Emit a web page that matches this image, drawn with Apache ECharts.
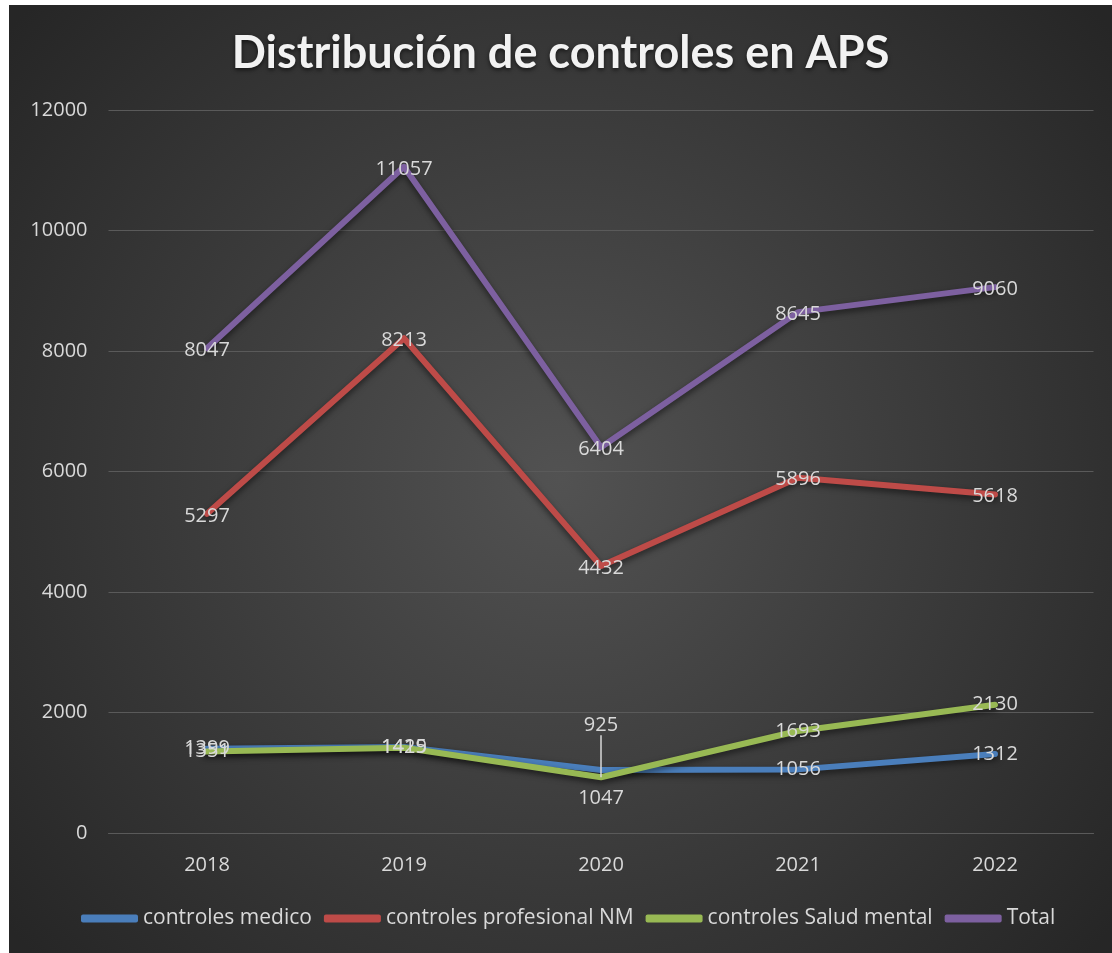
<!DOCTYPE html>
<html>
<head>
<meta charset="utf-8">
<script src="https://cdn.jsdelivr.net/npm/echarts@6/dist/echarts.min.js"></script>
<style>
  html, body { margin: 0; padding: 0; background: #ffffff; }
  #chart { position: absolute; left: 9px; top: 5px; width: 1103px; height: 948px; }
</style>
</head>
<body>
<div id="chart"></div>
<script>
var years = ['2018', '2019', '2020', '2021', '2022'];
var controlesMedico = [1399, 1429, 1047, 1056, 1312];
var controlesNM = [5297, 8213, 4432, 5896, 5618];
var controlesSaludMental = [1351, 1415, 925, 1693, 2130];
var total = [8047, 11057, 6404, 8645, 9060];

var labelColor = '#d9d9d9';
var fontName = '"Open Sans", sans-serif';

function makeSeries(name, data, color, extra) {
    var s = {
        name: name,
        type: 'line',
        data: data,
        showSymbol: true,
        symbol: 'circle',
        symbolSize: 0.1,
        lineStyle: {
            color: color,
            width: 6,
            cap: 'round',
            join: 'round',
            shadowColor: 'rgba(0,0,0,0.55)',
            shadowBlur: 6,
            shadowOffsetY: 3
        },
        itemStyle: { color: color },
        label: {
            show: true,
            position: 'inside',
            offset: [0, 2],
            color: labelColor,
            fontFamily: fontName,
            fontSize: 20
        },
        labelLine: { show: false },
        emphasis: { disabled: true },
        animation: false
    };
    if (extra) {
        for (var k in extra) s[k] = extra[k];
    }
    return s;
}

// 925 label sits above the point with a leader line (like the original)
var saludMentalData = controlesSaludMental.map(function (v, i) {
    if (i === 2) {
        return { value: v, labelLine: { show: true, lineStyle: { color: '#d9d9d9', width: 1.5 } } };
    }
    return v;
});

var chart = echarts.init(document.getElementById('chart'));

var option = {
    backgroundColor: {
        type: 'radial',
        x: 0.5, y: 0.5, r: 0.75,
        colorStops: [
            { offset: 0, color: '#525252' },
            { offset: 1, color: '#262626' }
        ]
    },
    title: {
        text: 'Distribución de controles en APS',
        left: 'center',
        top: 21,
        textStyle: {
            color: '#f2f2f2',
            fontFamily: 'Lato, sans-serif',
            fontWeight: 'bold',
            fontSize: 45,
            textShadowColor: 'rgba(0,0,0,0.6)',
            textShadowBlur: 4,
            textShadowOffsetY: 2
        }
    },
    legend: {
        bottom: 19,
        left: 67,
        icon: 'roundRect',
        itemWidth: 57,
        itemHeight: 8,
        itemGap: 12,
        textStyle: {
            color: labelColor,
            fontFamily: fontName,
            fontSize: 21
        },
        data: ['controles medico', 'controles profesional NM', 'controles Salud mental', 'Total']
    },
    grid: {
        left: 99.5,
        right: 18.5,
        top: 105,
        bottom: 120,
        containLabel: false
    },
    xAxis: {
        type: 'category',
        data: years,
        boundaryGap: true,
        axisLine: { lineStyle: { color: '#5a5a5a', width: 1 } },
        axisTick: { show: false },
        axisLabel: {
            color: labelColor,
            fontFamily: fontName,
            fontSize: 20,
            margin: 22
        }
    },
    yAxis: {
        type: 'value',
        min: 0,
        max: 12000,
        interval: 2000,
        axisLine: { show: false },
        axisTick: { show: false },
        splitLine: { lineStyle: { color: '#5a5a5a', width: 1 } },
        axisLabel: {
            color: labelColor,
            fontFamily: fontName,
            fontSize: 20,
            margin: 21,
            formatter: function (v) { return String(v); }
        }
    },
    series: [
        makeSeries('controles medico', controlesMedico, '#4a7ebb', {
            labelLayout: function (params) {
                if (params.dataIndex === 2) return { dy: 28 };
            }
        }),
        makeSeries('controles profesional NM', controlesNM, '#be4b48'),
        makeSeries('controles Salud mental', saludMentalData, '#98b954', {
            labelLayout: function (params) {
                if (params.dataIndex === 2) return { dy: -52 };
            }
        }),
        makeSeries('Total', total, '#7d60a0')
    ]
};

chart.setOption(option);
</script>
</body>
</html>
